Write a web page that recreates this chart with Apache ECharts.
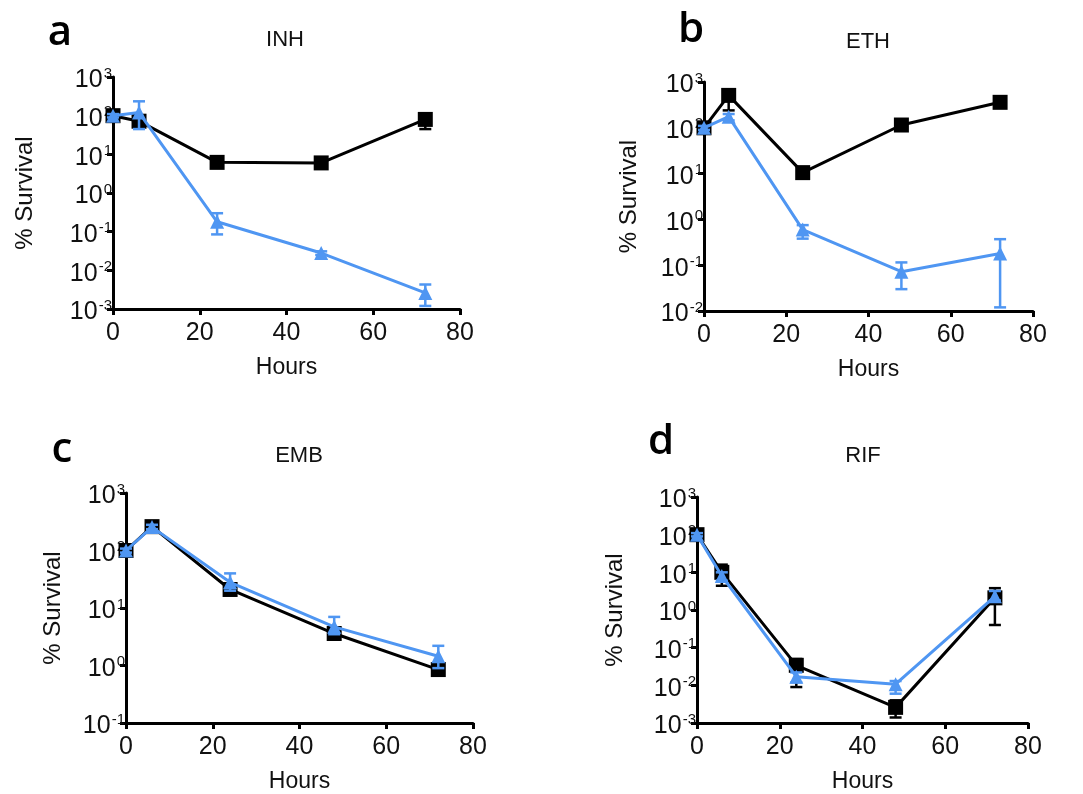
<!DOCTYPE html>
<html>
<head>
<meta charset="utf-8">
<script src="https://cdn.jsdelivr.net/npm/echarts@6/dist/echarts.min.js"></script>
<style>
  html, body { margin: 0; padding: 0; background: #fff; }
  #main { width: 1083px; height: 794px; }
</style>
</head>
<body>
<div id="main"></div>
<script>
// time points (hours)
var hours = [0, 6, 24, 48, 72];

// INH
var inhBlack   = [100, 72, 6.2, 6.0, 80];
var inhBlackLo = [88, 60, 5.5, 5.3, 45];
var inhBlackHi = [112, 85, 7.0, 6.8, 95];
var inhBlue    = [100, 120, 0.18, 0.028, 0.0026];
var inhBlueLo  = [90, 45, 0.085, 0.025, 0.0012];
var inhBlueHi  = [110, 235, 0.3, 0.031, 0.0043];

// ETH
var ethBlack   = [100, 510, 10.5, 115, 360];
var ethBlackLo = [90, 240, 9.5, 105, 330];
var ethBlackHi = [110, 680, 11.5, 125, 390];
var ethBlue    = [100, 175, 0.6, 0.072, 0.18];
var ethBlueLo  = [90, 145, 0.38, 0.03, 0.012];
var ethBlueHi  = [110, 200, 0.75, 0.115, 0.37];

// EMB
var embBlack   = [100, 260, 21, 3.6, 0.85];
var embBlackLo = [92, 240, 18, 3.1, 0.7];
var embBlackHi = [108, 280, 24, 4.2, 1.0];
var embBlue    = [100, 255, 28, 4.7, 1.45];
var embBlueLo  = [92, 235, 20, 3.5, 0.9];
var embBlueHi  = [108, 280, 40, 7, 2.2];

// RIF
var rifBlack   = [100, 10, 0.034, 0.0026, 2.1];
var rifBlackLo = [90, 4.4, 0.009, 0.0014, 0.4];
var rifBlackHi = [110, 16, 0.05, 0.004, 3.8];
var rifBlue    = [100, 8, 0.017, 0.0107, 2.3];
var rifBlueLo  = [90, 6, 0.012, 0.006, 1.8];
var rifBlueHi  = [110, 10, 0.022, 0.013, 3.2];

var drugs = ['INH', 'ETH', 'EMB', 'RIF'];
var letters = ['a', 'b', 'c', 'd'];
var yMins = [0.001, 0.01, 0.1, 0.001];
var yMax = 1000;

var BLUE = '#4f96f2';
var BLACK = '#000';
var FONT = '"Liberation Sans", Arial, sans-serif';

// panel geometry [left, top, width, height]
var grids = [
	[113, 77, 347, 232],
	[704, 82, 329, 229],
	[126, 493, 347, 231],
	[697, 497, 331, 228]
];
var yNameGaps = [76, 63, 61, 70];

var panelData = [
	[inhBlack, inhBlackLo, inhBlackHi, inhBlue, inhBlueLo, inhBlueHi],
	[ethBlack, ethBlackLo, ethBlackHi, ethBlue, ethBlueLo, ethBlueHi],
	[embBlack, embBlackLo, embBlackHi, embBlue, embBlueLo, embBlueHi],
	[rifBlack, rifBlackLo, rifBlackHi, rifBlue, rifBlueLo, rifBlueHi]
];

function pairs(ys) {
	return hours.map(function (h, i) { return [h, ys[i]]; });
}
function errRows(lo, hi) {
	return hours.map(function (h, i) { return [h, lo[i], hi[i]]; });
}
function errRender(color) {
	return function (params, api) {
		var x = api.value(0);
		var p1 = api.coord([x, api.value(1)]);
		var p2 = api.coord([x, api.value(2)]);
		var w = 6;
		var st = { stroke: color, lineWidth: 2.5 };
		return {
			type: 'group',
			children: [
				{ type: 'line', shape: { x1: p1[0], y1: p1[1], x2: p2[0], y2: p2[1] }, style: st },
				{ type: 'line', shape: { x1: p1[0] - w, y1: p1[1], x2: p1[0] + w, y2: p1[1] }, style: st },
				{ type: 'line', shape: { x1: p2[0] - w, y1: p2[1], x2: p2[0] + w, y2: p2[1] }, style: st }
			]
		};
	};
}

var gridOpt = [], xAxes = [], yAxes = [], series = [], graphics = [];

grids.forEach(function (g, k) {
	gridOpt.push({ left: g[0], top: g[1], width: g[2], height: g[3] });
	xAxes.push({
		type: 'value', gridIndex: k, min: 0, max: 80, interval: 20,
		name: 'Hours', nameLocation: 'middle', nameGap: 47,
		nameTextStyle: { fontFamily: FONT, fontSize: 23, color: '#111' },
		axisLine: { lineStyle: { color: '#000', width: 3 } },
		axisTick: { length: 6, lineStyle: { color: '#000', width: 3 } },
		axisLabel: { fontFamily: FONT, fontSize: 25, color: '#111', margin: 12 },
		splitLine: { show: false }
	});
	yAxes.push({
		type: 'log', logBase: 10, gridIndex: k, min: yMins[k], max: yMax,
		name: '% Survival', nameLocation: 'middle', nameGap: yNameGaps[k],
		nameTextStyle: { fontFamily: FONT, fontSize: 24, color: '#111' },
		axisLine: { lineStyle: { color: '#000', width: 3 } },
		axisTick: { length: 6, lineStyle: { color: '#000', width: 3 } },
		axisLabel: {
			margin: 1, color: '#111', padding: [7, 0, 0, 0],
			formatter: function (v) {
				return '{b|10}{s|' + Math.round(Math.log10(v)) + '}';
			},
			rich: {
				b: { fontFamily: FONT, fontSize: 25, color: '#111' },
				s: { fontFamily: FONT, fontSize: 15, color: '#111', padding: [0, 0, 14, 1] }
			}
		},
		splitLine: { show: false }
	});

	var d = panelData[k];
	series.push({
		type: 'line', xAxisIndex: k, yAxisIndex: k, data: pairs(d[0]),
		symbol: 'rect', symbolSize: 15, itemStyle: { color: BLACK },
		lineStyle: { color: BLACK, width: 3 }, z: 2, animation: false
	});
	series.push({
		type: 'custom', xAxisIndex: k, yAxisIndex: k, data: errRows(d[1], d[2]),
		renderItem: errRender(BLACK), encode: { x: 0, y: [1, 2] }, z: 2, animation: false
	});
	series.push({
		type: 'line', xAxisIndex: k, yAxisIndex: k, data: pairs(d[3]),
		symbol: 'triangle', symbolSize: 14, itemStyle: { color: BLUE },
		lineStyle: { color: BLUE, width: 3 }, z: 3, animation: false
	});
	series.push({
		type: 'custom', xAxisIndex: k, yAxisIndex: k, data: errRows(d[4], d[5]),
		renderItem: errRender(BLUE), encode: { x: 0, y: [1, 2] }, z: 3, animation: false
	});
});

// drug titles and panel letters
var titlePos = [[285, 40], [868, 42], [299, 456], [863, 456]];
var letterPos = [[60, 33], [691, 30], [62, 450], [661, 442]];
titlePos.forEach(function (p, k) {
	graphics.push({
		type: 'text', x: p[0], y: p[1],
		style: { text: drugs[k], font: '22px ' + FONT, fill: '#111', align: 'center', verticalAlign: 'middle' }
	});
	graphics.push({
		type: 'text', x: letterPos[k][0], y: letterPos[k][1],
		style: { text: letters[k], font: '600 42px "Open Sans", sans-serif', fill: '#000', align: 'center', verticalAlign: 'middle' }
	});
});

var chart = echarts.init(document.getElementById('main'));
chart.setOption({
	animation: false,
	backgroundColor: '#fff',
	grid: gridOpt,
	xAxis: xAxes,
	yAxis: yAxes,
	series: series,
	graphic: graphics
});
</script>
</body>
</html>
